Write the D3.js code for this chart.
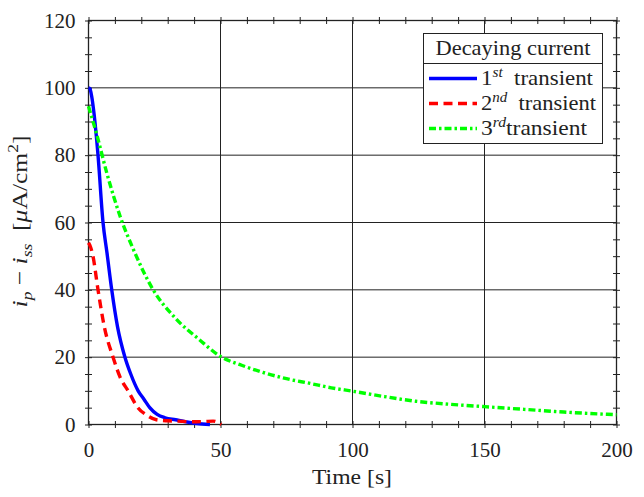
<!DOCTYPE html>
<html><head><meta charset="utf-8">
<script src="https://cdn.jsdelivr.net/npm/d3@7"></script>
<style>
body{margin:0;background:#fff}
svg{display:block}
svg text, svg tspan{font-family:Liberation Serif, serif !important}
</style></head>
<body>
<svg id="chart" width="644" height="497"></svg>
<script>
// ---- data ----
const t1 = [0, 0.5, 1.2, 2, 3.6, 5.5, 7, 8.8, 11, 13.8, 16, 18.8, 21, 23.2, 26, 29, 33, 37, 41, 46];
const y1 = [100, 99.8, 97.5, 93, 80, 60, 51, 40, 29, 20, 15, 10, 7.5, 5, 3, 2, 1.4, 0.8, 0.3, 0];
const t2 = [0, 0.5, 1.7, 3.6, 6, 9.3, 12, 15, 18.7, 22, 25.7, 30, 33.3, 39.6, 44, 47.2, 50.3];
const y2 = [54, 53.3, 50, 40, 29, 20, 14, 10, 5, 2.8, 1.4, 1.1, 1.0, 0.8, 0.9, 1.0, 0];
const t3 = [0, 3, 7, 12, 17, 24.5, 33, 42, 50, 58, 66, 75, 84, 92, 100, 112, 124, 137, 150, 165, 180, 200];
const y3 = [94.5, 86.5, 74.5, 61.8, 52, 40, 31.5, 25.2, 20.2, 17.6, 15.5, 13.6, 12.2, 10.9, 9.9, 8.3, 6.9, 6, 5.3, 4.5, 3.7, 2.9];
const seriesNames = ["1st", "2nd", "3rd"];
const seriesColors = ["#0000ff", "#ff0000", "#00ff00"];
const xTicks = [0, 50, 100, 150, 200];
const yTicks = [0, 20, 40, 60, 80, 100, 120];
const legendTitle = "Decaying current";

const FONT = "Liberation Serif";
const svg = d3.select("#chart");
const L = 88.5, R = 616.5, T = 20.5, B = 424.5;
const x = d3.scaleLinear().domain([0, 200]).range([L, R]);
const y = d3.scaleLinear().domain([0, 120]).range([B, T]);
const fs = 21;

const g = svg.append("g");
g.selectAll(".vg").data(xTicks).join("line")
  .attr("x1", d => x(d)).attr("x2", d => x(d)).attr("y1", T).attr("y2", B)
  .attr("stroke", "#222").attr("stroke-width", 1);
g.selectAll(".hg").data(yTicks).join("line")
  .attr("y1", d => y(d)).attr("y2", d => y(d)).attr("x1", L).attr("x2", R)
  .attr("stroke", "#222").attr("stroke-width", 1);

const xMinor = d3.range(0, 201, 10), yMinor = d3.range(0, 121, 5);
function tickAxis(axisFn, scale, vals, tr) {
  const a = svg.append("g").attr("transform", tr)
    .call(axisFn(scale).tickValues(vals).tickSize(3.5).tickFormat(""));
  a.select(".domain").remove();
  a.selectAll("line").attr("stroke", "#222").attr("stroke-width", 1);
}
tickAxis(d3.axisBottom, x, xMinor, `translate(0,${B})`);
tickAxis(d3.axisTop, x, xMinor, `translate(0,${B})`);
tickAxis(d3.axisBottom, x, xMinor, `translate(0,${T})`);
tickAxis(d3.axisTop, x, xMinor, `translate(0,${T})`);
tickAxis(d3.axisLeft, y, yMinor, `translate(${L},0)`);
tickAxis(d3.axisRight, y, yMinor, `translate(${L},0)`);
tickAxis(d3.axisLeft, y, yMinor, `translate(${R},0)`);
tickAxis(d3.axisRight, y, yMinor, `translate(${R},0)`);

svg.append("rect").attr("x", L).attr("y", T).attr("width", R - L).attr("height", B - T)
  .attr("fill", "none").attr("stroke", "#222").attr("stroke-width", 1.3);

const xl = svg.append("g").attr("transform", `translate(0,${B})`)
  .call(d3.axisBottom(x).tickValues(xTicks).tickSize(0).tickPadding(18));
xl.select(".domain").remove();
xl.selectAll("text").attr("fill", "#222").attr("font-family", FONT).attr("font-size", fs);
const yl = svg.append("g").attr("transform", `translate(${L},0)`)
  .call(d3.axisLeft(y).tickValues(yTicks).tickSize(0).tickPadding(13));
yl.select(".domain").remove();
yl.selectAll("text").attr("fill", "#222").attr("font-family", FONT).attr("font-size", fs);

const line = d3.line().x(d => x(d[0])).y(d => y(d[1])).curve(d3.curveMonotoneX);
const series = [
  { pts: d3.zip(t1, y1), color: seriesColors[0], dash: null },
  { pts: d3.zip(t2, y2), color: seriesColors[1], dash: "9,5.5" },
  { pts: d3.zip(t3, y3), color: seriesColors[2], dash: "7,3,2.5,3" }
];
series.forEach(s => {
  svg.append("path").attr("d", line(s.pts)).attr("fill", "none")
    .attr("stroke", s.color).attr("stroke-width", 3.4)
    .attr("stroke-dasharray", s.dash).attr("stroke-linejoin", "round");
});

svg.append("text").attr("x", 352).attr("y", 484).attr("text-anchor", "middle")
  .attr("font-family", FONT).attr("font-size", 22).attr("fill", "#222")
  .attr("textLength", 80).attr("lengthAdjust", "spacingAndGlyphs")
  .text("Time [s]");

const yt = svg.append("text").attr("transform", "translate(27,221.5) rotate(-90)")
  .attr("text-anchor", "middle").attr("font-family", FONT).attr("font-size", 22).attr("fill", "#222")
  .attr("textLength", 172).attr("lengthAdjust", "spacingAndGlyphs");
yt.append("tspan").attr("font-style", "italic").text("i");
yt.append("tspan").attr("font-style", "italic").attr("font-size", 15).attr("dy", 5).text("p");
yt.append("tspan").attr("dy", -5).text(" \u2212 ");
yt.append("tspan").attr("font-style", "italic").text("i");
yt.append("tspan").attr("font-style", "italic").attr("font-size", 15).attr("dy", 5).text("ss");
yt.append("tspan").attr("dy", -5).text("\u2002[");
yt.append("tspan").attr("font-style", "italic").text("\u03bc");
yt.append("tspan").text("A/cm");
yt.append("tspan").attr("font-size", 15).attr("dy", -9).text("2");
yt.append("tspan").attr("dy", 9).text("]");

const lg = svg.append("g").attr("font-family", FONT).attr("fill", "#222");
lg.append("rect").attr("x", 423.5).attr("y", 33.5).attr("width", 179).attr("height", 110)
  .attr("fill", "#fff").attr("stroke", "#222").attr("stroke-width", 1);
lg.append("line").attr("x1", 423.5).attr("x2", 602.5).attr("y1", 63.5).attr("y2", 63.5)
  .attr("stroke", "#222").attr("stroke-width", 1);
lg.append("text").attr("x", 513).attr("y", 54.5).attr("text-anchor", "middle")
  .attr("font-size", 21).attr("font-family", FONT)
  .attr("textLength", 155).attr("lengthAdjust", "spacingAndGlyphs")
  .text(legendTitle);
const rowsY = [78.5, 103.5, 128.5];
const rowLen = [112, 115, 106];
series.forEach((s, i) => {
  lg.append("line").attr("x1", 429).attr("x2", 477).attr("y1", rowsY[i]).attr("y2", rowsY[i])
    .attr("stroke", s.color).attr("stroke-width", 3.4).attr("stroke-dasharray", s.dash);
  const tx = lg.append("text").attr("x", 481).attr("y", rowsY[i] + 6.5).attr("font-size", 21)
    .attr("font-family", FONT).attr("textLength", rowLen[i]).attr("lengthAdjust", "spacingAndGlyphs");
  const nm = seriesNames[i];
  tx.append("tspan").text(nm[0]);
  tx.append("tspan").attr("font-style", "italic").attr("font-size", 14).attr("dy", -8).text(nm.slice(1));
  tx.append("tspan").attr("dy", 8).text((i < 2 ? "\u2002" : "") + "transient");
});
</script>
</body></html>
